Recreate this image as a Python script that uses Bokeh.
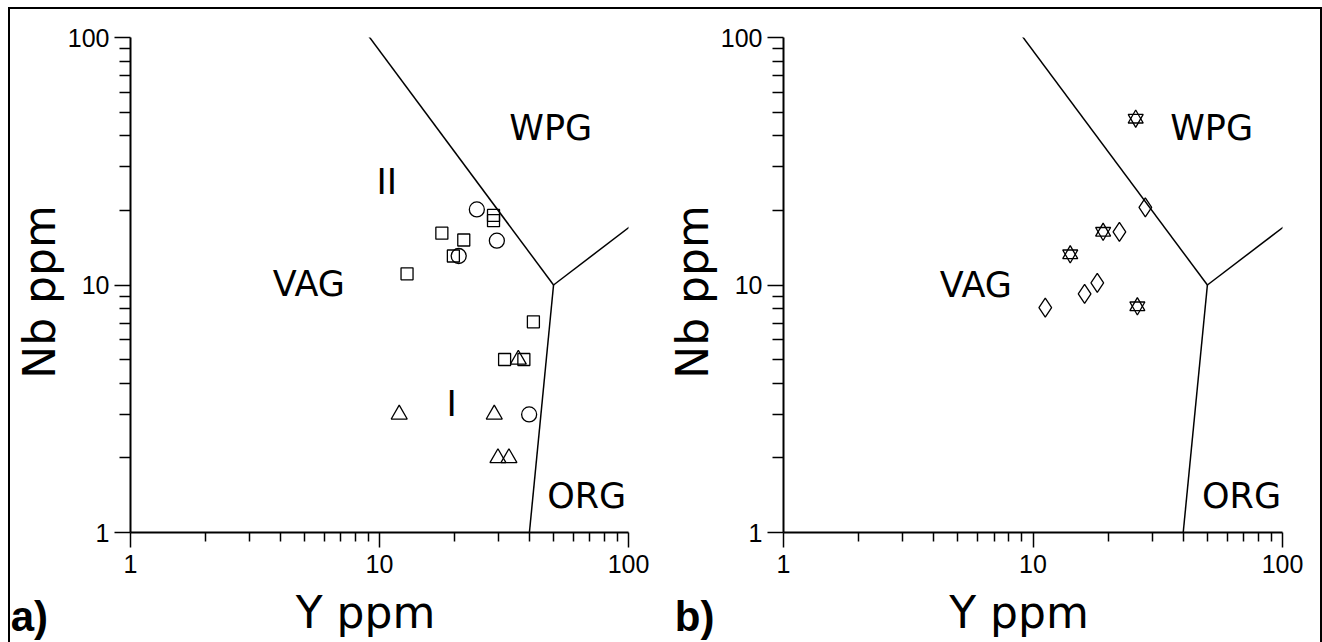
from bokeh.plotting import figure
from bokeh.layouts import row
from bokeh.models import Range1d, FixedTicker, NumeralTickFormatter, LinearAxis
from bokeh.core.properties import value
from bokeh.embed import file_html
from bokeh.resources import INLINE

# ---------------- data (Y ppm, Nb ppm) ----------------
a_square_y = [28.7, 28.7, 17.8, 21.8, 19.8, 12.9, 41.5, 31.8, 38.0]
a_square_nb = [19.1, 18.2, 16.2, 15.2, 13.1, 11.1, 7.1, 5.0, 5.0]
a_circle_y = [24.6, 20.8, 29.6, 39.9]
a_circle_nb = [20.2, 13.1, 15.1, 3.0]
a_triangle_y = [36.1, 12.0, 28.9, 29.9, 33.1]
a_triangle_nb = [5.0, 3.0, 3.0, 2.0, 2.0]

b_star_y = [25.8, 19.1, 14.1, 26.2]
b_star_nb = [47.0, 16.4, 13.3, 8.2]
b_diamond_y = [28.2, 22.2, 18.1, 16.1, 11.2]
b_diamond_nb = [20.6, 16.4, 10.2, 9.2, 8.1]

# Pearce et al. (1984) discrimination boundaries
vag_wpg_y = [50, 1]
vag_wpg_nb = [10, 2000]
wpg_org_y = [50, 1000]
wpg_org_nb = [10, 100]
vag_org_y = [50, 40]
vag_org_nb = [10, 1]

major_ticks = [1, 10, 100]
minor_ticks = [2, 3, 4, 5, 6, 7, 8, 9, 20, 30, 40, 50, 60, 70, 80, 90]

FONT = value("DejaVu Sans")
NBSP = "\u00a0"


def make_panel(width, border_left, border_right, fields, markers, tag, tag_pad):
    p = figure(width=width, height=633, x_axis_type="log", y_axis_type="log",
               x_range=Range1d(1, 100), y_range=Range1d(1, 100),
               output_backend="svg", toolbar_location=None,
               min_border_left=border_left, min_border_right=border_right,
               min_border_top=28, min_border_bottom=109)
    p.outline_line_color = None
    p.xgrid.visible = False
    p.ygrid.visible = False
    for ax in (p.xaxis[0], p.yaxis[0]):
        ax.ticker = FixedTicker(ticks=major_ticks, minor_ticks=minor_ticks)
        ax.formatter = NumeralTickFormatter(format="0")
        ax.axis_line_width = 2
        ax.axis_line_color = "black"
        ax.major_tick_line_width = 1.5
        ax.minor_tick_line_width = 1.5
        ax.major_tick_in = 0
        ax.minor_tick_in = 0
        ax.major_label_text_font = "Liberation Sans"
        ax.major_label_text_font_size = "25px"
        ax.major_label_text_color = "black"
        ax.axis_label_text_font = "DejaVu Sans"
        ax.axis_label_text_font_size = "44px"
        ax.axis_label_text_font_style = "normal"
        ax.axis_label_text_color = "black"
    p.xaxis.major_tick_out = 15
    p.xaxis.minor_tick_out = 9
    p.yaxis.major_tick_out = 16
    p.yaxis.minor_tick_out = 11
    p.xaxis.major_label_standoff = 7
    p.yaxis.major_label_standoff = 5
    p.xaxis.axis_label = "Y   ppm"
    p.yaxis.axis_label = "Nb  ppm"
    p.xaxis.axis_label_standoff = 11
    p.yaxis.axis_label_standoff = 0

    for xs, ys in ((vag_wpg_y, vag_wpg_nb), (wpg_org_y, wpg_org_nb), (vag_org_y, vag_org_nb)):
        p.line(xs, ys, line_color="black", line_width=1.5)

    for kind, xs, ys, size in markers:
        if kind == "star":
            p.scatter(xs, ys, marker="triangle", size=size, fill_color=None,
                      line_color="black", line_width=1.3)
            p.scatter(xs, ys, marker="inverted_triangle", size=size, fill_color=None,
                      line_color="black", line_width=1.3)
        else:
            p.scatter(xs, ys, marker=kind, size=size, fill_color=None,
                      line_color="black", line_width=1.3)

    for txt, x, y in fields:
        p.text([x], [y], text=[txt], text_font=FONT, text_font_size="35px",
               text_align="center", text_baseline="middle", text_color="black")

    # panel tag: title of a bare, tick-less second bottom axis, pulled up beside "Y ppm"
    tag_axis = LinearAxis(ticker=FixedTicker(ticks=[]), axis_line_color=None,
                          major_tick_out=0, minor_tick_out=0, major_tick_in=0, minor_tick_in=0,
                          major_label_standoff=0,
                          axis_label=tag + NBSP * tag_pad, axis_label_standoff=-48,
                          axis_label_text_font="Liberation Sans",
                          axis_label_text_font_size="42px",
                          axis_label_text_font_style="bold",
                          axis_label_text_color="black")
    p.add_layout(tag_axis, "below")
    return p


fields_a = [("WPG", 48.7, 43), ("VAG", 5.2, 10.1), ("ORG", 67.9, 1.41),
            ("II", 10.7, 26), ("I", 19.5, 3.31)]
fields_b = [("WPG", 52, 43), ("VAG", 5.9, 10.0), ("ORG", 68.5, 1.41)]

markers_a = [("square", a_square_y, a_square_nb, 12),
             ("circle", a_circle_y, a_circle_nb, 15),
             ("triangle", a_triangle_y, a_triangle_nb, 16)]
markers_b = [("diamond", b_diamond_y, b_diamond_nb, 19),
             ("star", b_star_y, b_star_nb, 15)]

pa = make_panel(650, 119, 32, fields_a, markers_a, "a)", 60)
pb = make_panel(660, 123, 38, fields_b, markers_b, "b)", 58)

layout = row(pa, pb, margin=(7, 0, 0, 8),
             styles={"border-top": "2px solid black", "border-left": "2px solid black",
                     "border-right": "2px solid black"})
open("out.html", "w").write(file_html(layout, INLINE))
